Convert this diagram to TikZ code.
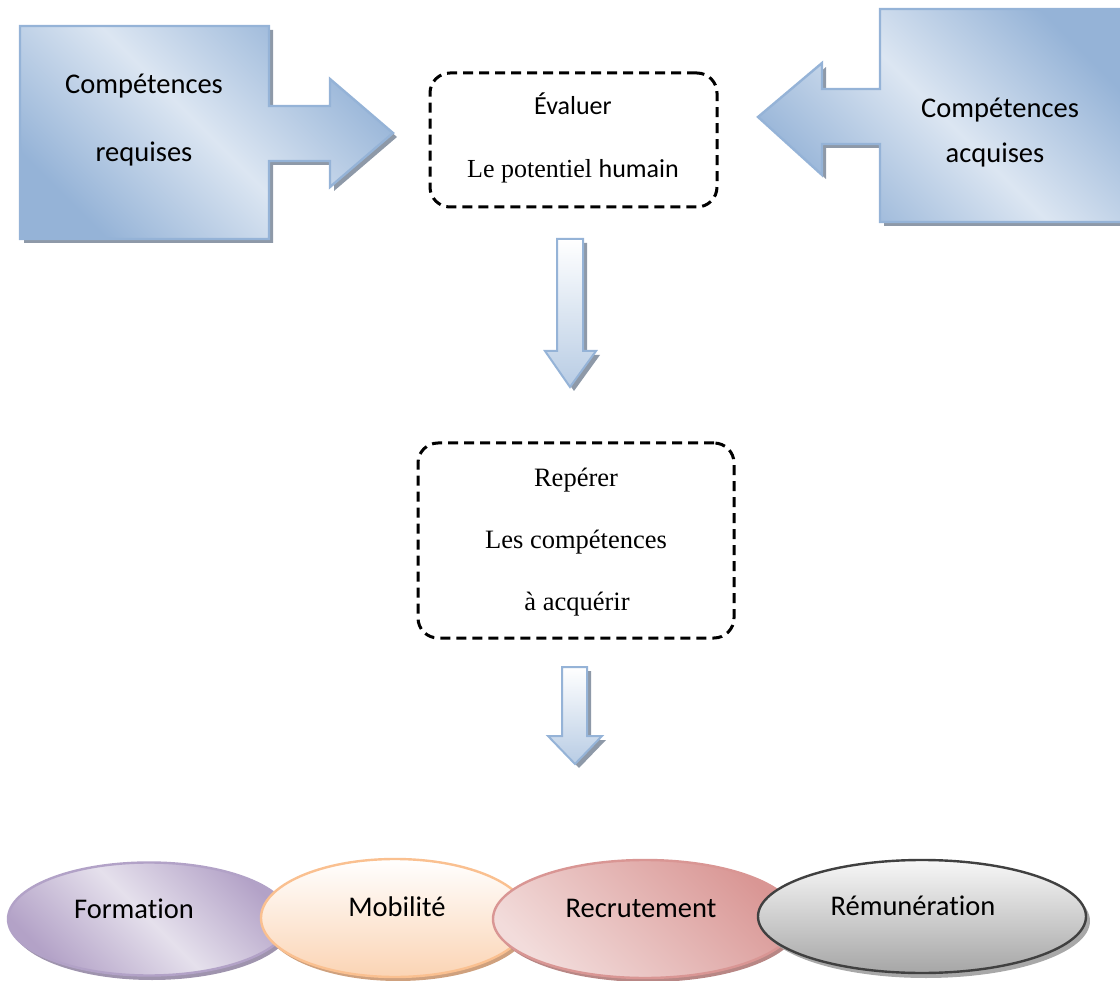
\documentclass[tikz,border=0pt]{standalone}
\usepackage{fontspec}
\setmainfont{Liberation Serif}
\newfontfamily\calfont[RawFeature=-liga]{Carlito}
\usetikzlibrary{shapes.geometric}

% palette
\definecolor{blueEdge}{HTML}{95B3D7}
\definecolor{blueDeep}{HTML}{95B3D7}
\definecolor{blueLight}{HTML}{DCE6F2}
\definecolor{blueShadow}{HTML}{8E99A8}
\definecolor{arrowLow}{HTML}{B8CCE4}
\definecolor{lilacEdge}{HTML}{B2A2C7}
\definecolor{lilacDeep}{HTML}{B3A2C7}
\definecolor{lilacLight}{HTML}{E5E0EC}
\definecolor{lilacShadow}{HTML}{9F94AE}
\definecolor{peachEdge}{HTML}{FAC090}
\definecolor{peachLow}{HTML}{FBD4B4}
\definecolor{peachShadow}{HTML}{CFA17E}
\definecolor{roseEdge}{HTML}{D99694}
\definecolor{roseDeep}{HTML}{D99694}
\definecolor{roseLight}{HTML}{F2DCDB}
\definecolor{roseShadow}{HTML}{B88785}
\definecolor{greyEdge}{HTML}{404040}
\definecolor{greyLow}{HTML}{A6A6A6}
\definecolor{greyShadow}{HTML}{A8A8A8}

% outlines of the block arrows
\def\leftcallout{(20,26) -- (269,26) -- (269,106) -- (330,106) -- (330,79) -- (393,133) -- (330,187) -- (330,161) -- (269,161) -- (269,239) -- (20,239) -- cycle}
\def\rightcallout{(1126,9) -- (880,9) -- (880,89) -- (822,89) -- (822,63) -- (758,117) -- (822,175) -- (822,144) -- (880,144) -- (880,222) -- (1126,222) -- cycle}
\def\downone{(557,239) -- (583,239) -- (583,351) -- (596,351) -- (570,387) -- (545,351) -- (557,351) -- cycle}
\def\downtwo{(562,667) -- (587,667) -- (587,736) -- (602,736) -- (575,764) -- (548,736) -- (562,736) -- cycle}

\begin{document}
\begin{tikzpicture}[x=1pt,y=-1pt,
  cal/.style={font=\calfont\fontsize{28.5}{34}\selectfont, anchor=base, inner sep=0},
  small/.style={font=\fontsize{26}{31}\selectfont, anchor=base, inner sep=0},
  calloutfill/.style={draw=blueEdge, line width=2.4pt, line join=miter,
    left color=blueDeep, right color=blueDeep, middle color=blueLight, shading angle=-45},
  downfill/.style={draw=blueEdge, line width=2pt, top color=white, bottom color=arrowLow},
  dashbox/.style={draw=black, line width=3pt, dash pattern=on 10pt off 6pt,
    rounded corners=20pt, inner sep=0},
  oval/.style={ellipse, inner sep=0, line width=2.4pt}]

\useasboundingbox (0,0) rectangle (1120,981);
\clip (0,0) rectangle (1120,981);

% block arrow: required skills
\fill[blueShadow, shift={(4,4)}] \leftcallout;
\path[calloutfill] \leftcallout;
\node[cal] (req1) at (144,94) {Compétences};
\node[cal] (req2) at (144,162) {requises};

% block arrow: acquired skills
\fill[blueShadow, shift={(4,4)}] \rightcallout;
\path[calloutfill] \rightcallout;
\node[cal] (acq1) at (1000,118) {Compétences};
\node[cal] (acq2) at (995,163) {acquises};

% first step
\node[dashbox, minimum width=287pt, minimum height=134pt] (eval) at (573.5,140) {};
\node[small] (eval1) at (573,115) {\calfont Évaluer};
\node[small] (eval2) at (573,178) {Le potentiel {\calfont humain}};

% arrow down to the second step
\fill[blueShadow, shift={(4,4)}] \downone;
\path[downfill] \downone;

% second step
\node[dashbox, minimum width=316pt, minimum height=195pt] (spot) at (576,540.5) {};
\node[small, font=\fontsize{26.5}{31}\selectfont] (spot1) at (576,487) {Repérer};
\node[small, font=\fontsize{26.5}{31}\selectfont] (spot2) at (576,548) {Les compétences};
\node[small, font=\fontsize{26.5}{31}\selectfont] (spot3) at (577,610) {à acquérir};

% arrow down to the levers
\fill[blueShadow, shift={(4,4)}] \downtwo;
\path[downfill] \downtwo;

% levers
\fill[lilacShadow] (152,923) ellipse [x radius=141, y radius=57];
\node[oval, draw=lilacEdge, left color=lilacDeep, right color=lilacDeep, middle color=lilacLight,
  shading angle=-45, minimum width=282pt, minimum height=113pt] (formation) at (149,919) {};
\node[cal] (formationT) at (134,918) {Formation};

\fill[peachShadow] (398,922) ellipse [x radius=134, y radius=59];
\node[oval, draw=peachEdge, top color=white, bottom color=peachLow,
  minimum width=268pt, minimum height=118pt] (mobilite) at (395,918) {};
\node[cal] (mobiliteT) at (397,916) {Mobilité};

\fill[roseShadow] (648,923) ellipse [x radius=152, y radius=59];
\node[oval, draw=roseEdge, left color=roseDeep, right color=roseLight, shading angle=-45,
  minimum width=304pt, minimum height=118pt] (recrutement) at (645,919) {};
\node[cal] (recrutementT) at (641,917) {Recrutement};

\fill[greyShadow] (926,921) ellipse [x radius=164, y radius=57];
\node[oval, draw=greyEdge, top color=white!97!black, bottom color=greyLow,
  minimum width=328pt, minimum height=113pt] (remuneration) at (922,916.5) {};
\node[cal] (remunerationT) at (913,915) {Rémunération};

\end{tikzpicture}
\end{document}
